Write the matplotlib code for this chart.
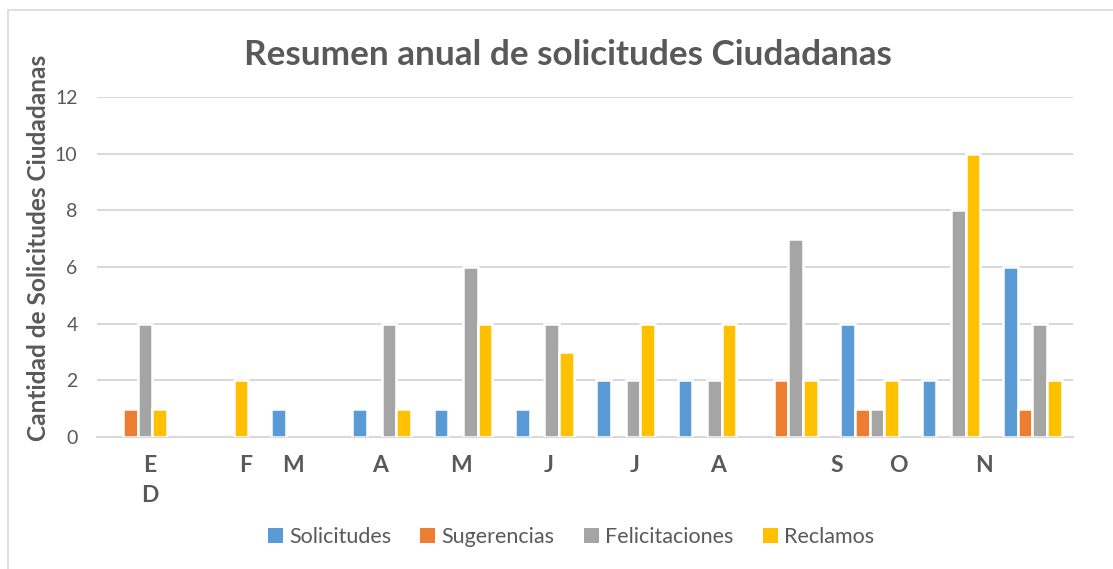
import matplotlib
matplotlib.use("Agg")
import matplotlib.pyplot as plt
import numpy as np
from matplotlib.patches import Rectangle

# Monthly counts per request type (12 monthly groups)
solicitudes    = [0, 0, 1, 1, 1, 1, 2, 2, 0, 4, 2, 6]
sugerencias    = [1, 0, 0, 0, 0, 0, 0, 0, 2, 1, 0, 1]
felicitaciones = [4, 0, 0, 4, 6, 4, 2, 2, 7, 1, 8, 4]
reclamos       = [1, 2, 0, 1, 4, 3, 4, 4, 2, 2, 10, 2]

series_names = ["Solicitudes", "Sugerencias", "Felicitaciones", "Reclamos"]
series_colors = ["#5B9BD5", "#ED7D31", "#A5A5A5", "#FFC000"]

# Month initials as printed under the axis
month_labels = ["E\nD", "F", "M", "A", "M", "J", "J", "A", "S", "O", "N"]
label_pos = [0.15, 1.33, 1.91, 2.98, 3.97, 5.05, 6.11, 7.14, 8.59, 9.35, 10.40]

title = "Resumen anual de solicitudes Ciudadanas"
ylabel = "Cantidad de Solicitudes Ciudadanas"

text_color = "#595959"
plt.rcParams["font.family"] = ["Lato", "DejaVu Sans"]

fig = plt.figure(figsize=(11.13, 5.69), dpi=100)
fig.patch.set_facecolor("white")

# chart frame
fig.add_artist(Rectangle((8 / 1113, -0.1), 1.2, 1 - 10 / 569 + 0.1,
                         transform=fig.transFigure, fill=False,
                         edgecolor="#D9D9D9", linewidth=1.2))

ax = fig.add_axes([97 / 1113, 1 - 437 / 569, (1073 - 97) / 1113, (437 - 97) / 569])

values = [solicitudes, sugerencias, felicitaciones, reclamos]
x = np.arange(len(solicitudes))
slot = 0.18
for k, (vals, name, col) in enumerate(zip(values, series_names, series_colors)):
    edges = ["white" if v > 0 else "none" for v in vals]
    ax.bar(x + (k - 1.5) * slot, vals, width=slot, color=col, label=name,
           edgecolor=edges, linewidth=1.8, zorder=3)

ax.set_xlim(-0.5, len(solicitudes) - 0.5)
ax.set_ylim(0, 12)
ax.set_yticks(np.arange(0, 13, 2))
ax.yaxis.grid(True, color="#D9D9D9", linewidth=1.5, zorder=0)
ax.set_axisbelow(True)
for s in ["top", "right", "left"]:
    ax.spines[s].set_visible(False)
ax.spines["bottom"].set_color("#D9D9D9")
ax.spines["bottom"].set_linewidth(1.5)
ax.spines["bottom"].set_zorder(1)
ax.tick_params(axis="y", length=0, labelsize=14, labelcolor=text_color, pad=14)
ax.tick_params(axis="x", length=0)

ax.set_xticks(label_pos)
ax.set_xticklabels(month_labels, fontsize=16.5, fontweight="bold", color=text_color,
                   linespacing=1.55, va="top")
ax.tick_params(axis="x", pad=13)

ax.set_ylabel(ylabel, fontsize=17.6, fontweight="bold", color=text_color)
ax.yaxis.set_label_coords(-0.048, 0.555)

fig.text(568 / 1113, 1 - 55 / 569, title, ha="center", va="center",
         fontsize=25.3, fontweight="bold", color=text_color)

leg = fig.legend(loc="center", bbox_to_anchor=(571 / 1113, 1 - 537 / 569), ncol=4,
                 frameon=False, fontsize=15.5, handlelength=0.7, handleheight=0.7,
                 handletextpad=0.3, columnspacing=1.35, labelcolor=text_color)
for h in leg.legend_handles:
    h.set_edgecolor("none")

fig.savefig("out.png", dpi=100, facecolor="white")
